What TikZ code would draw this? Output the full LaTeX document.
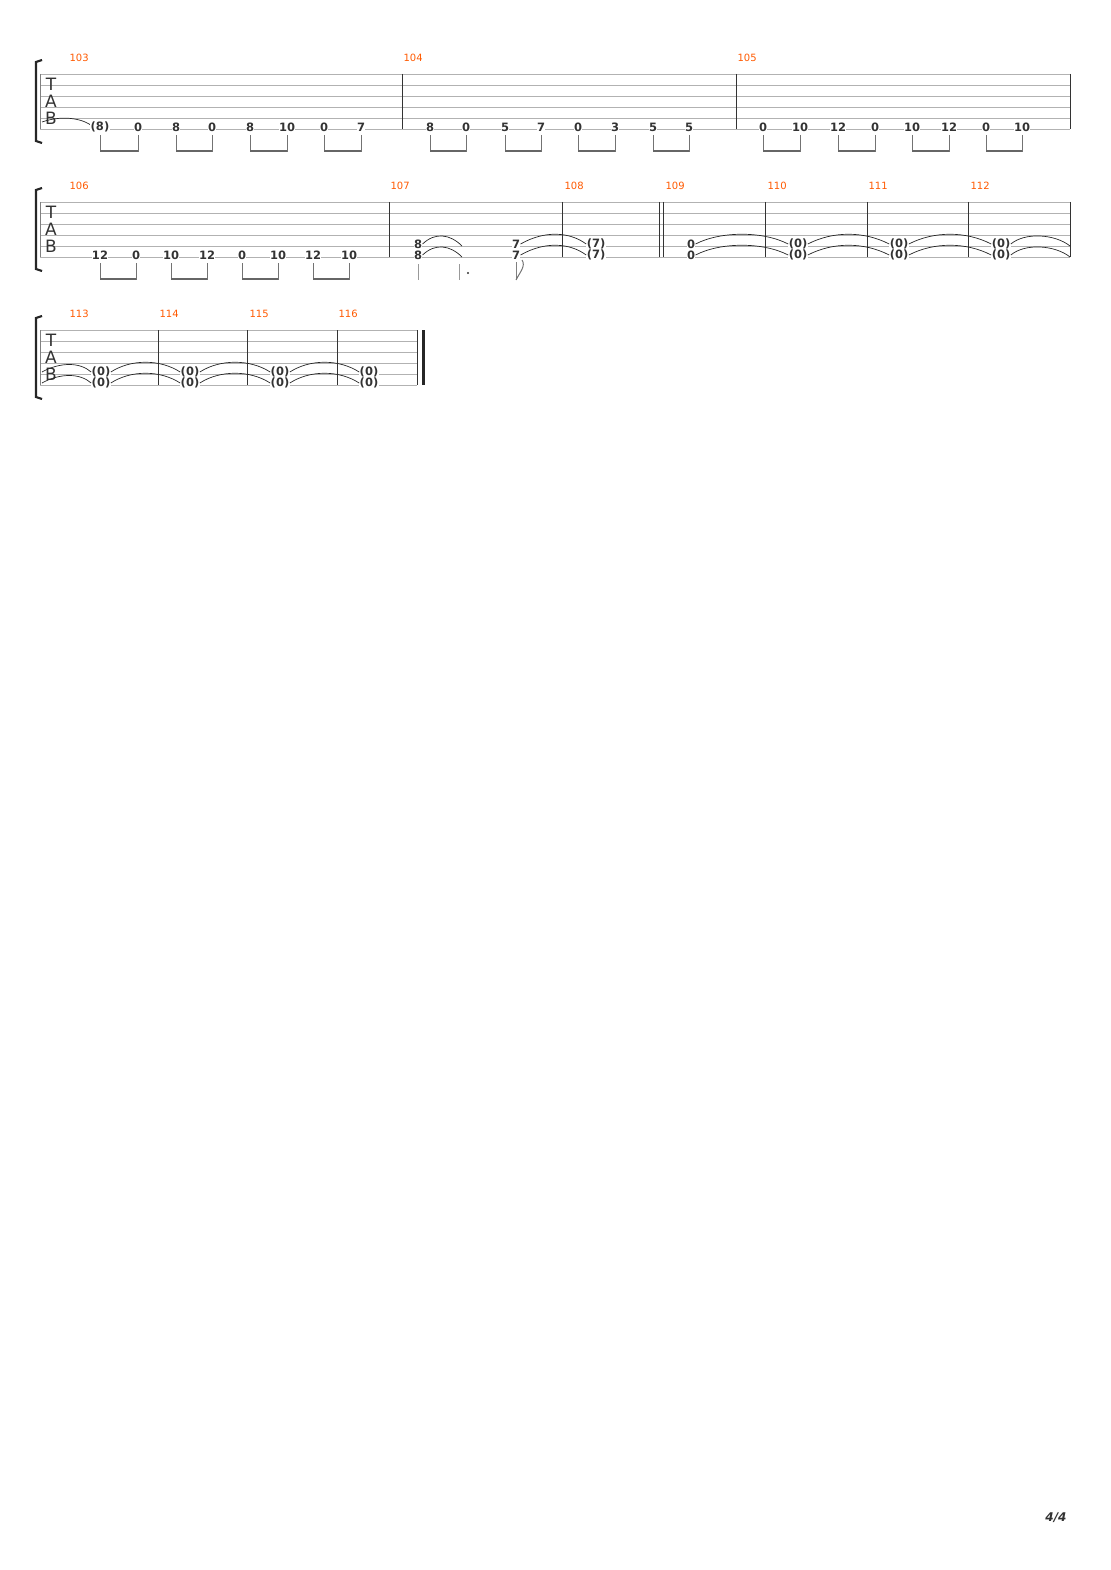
\documentclass[tikz,border=0pt]{standalone}
\usepackage{fontspec}
\setmainfont{DejaVu Sans}
\begin{document}
\begin{tikzpicture}[x=1pt,y=-1pt,
 nt/.style={fill=white,inner sep=0.4pt,font=\fontsize{11.5}{11.5}\selectfont\bfseries,text=black!80},
 mn/.style={font=\fontsize{10}{10}\selectfont,text=orange!70!red,anchor=west},
 sl/.style={draw=black!30,line width=0.6pt},
 bar/.style={draw=black!80,line width=0.8pt},
 stm/.style={draw=black!55,line width=0.9pt},
 bm/.style={draw=black!60,line width=2pt},
 tie/.style={draw=black!85,line width=0.7pt},
 brk/.style={draw=black!85,line width=2.2pt}]
\path[use as bounding box] (0,0) rectangle (1110,1570);
% staves
\foreach \y/\xe in {74/1070,202/1070,330/417}{
 \foreach \i in {0,...,5}{\draw[sl] (40,\y+11*\i) -- (\xe,\y+11*\i);}
 \draw[brk] (42,\y-14) -- (36,\y-12) -- (36,\y+67) -- (42,\y+69);
 \draw[draw=black!50] (40,\y) -- (40,\y+55);
 \node[font=\fontsize{17}{17}\selectfont,text=black!80] at (51,\y+10) {T};
 \node[font=\fontsize{17}{17}\selectfont,text=black!80] at (51,\y+27) {A};
 \node[font=\fontsize{17}{17}\selectfont,text=black!80] at (51,\y+44) {B};
}
% barlines
\foreach \x in {402,736,1070}{\draw[bar] (\x,74)--(\x,129);}
\foreach \x in {389,562,659,663,765,867,968,1070}{\draw[bar] (\x,202)--(\x,257);}
\foreach \x in {158,247,337,417}{\draw[bar] (\x,330)--(\x,385);}
\draw[draw=black!85,line width=3pt] (423,330)--(423,385);
% measure numbers
\foreach \x/\y/\t in {66/58/103,400/58/104,734/58/105,66/186/106,387/186/107,561/186/108,662/186/109,764/186/110,865/186/111,967/186/112,66/314/113,156/314/114,246/314/115,335/314/116}
 \node[mn] at (\x,\y) {\t};
% system 1 notes
\draw[tie] (42,122) .. controls (65,114) and (85,120) .. (92,126);
\foreach \x/\t [count=\i] in {100/(8),138/0,176/8,212/0,250/8,287/10,324/0,361/7,430/8,466/0,505/5,541/7,578/0,615/3,653/5,689/5,763/0,800/10,838/12,875/0,912/10,949/12,986/0,1022/10}
 \node[nt] (a\i) at (\x,127) {\t};
\foreach \a/\b in {1/2,3/4,5/6,7/8,9/10,11/12,13/14,15/16,17/18,19/20,21/22,23/24}{
 \draw[stm] (a\a |- 0,135) -- (a\a |- 0,152);
 \draw[stm] (a\b |- 0,135) -- (a\b |- 0,152);
 \draw[bm] (a\a |- 0,151) -- (a\b |- 0,151);
}
% system 2 m106
\foreach \x/\t [count=\i] in {100/12,136/0,171/10,207/12,242/0,278/10,313/12,349/10}
 \node[nt] (b\i) at (\x,255) {\t};
\foreach \a/\b in {1/2,3/4,5/6,7/8}{
 \draw[stm] (b\a |- 0,263) -- (b\a |- 0,280);
 \draw[stm] (b\b |- 0,263) -- (b\b |- 0,280);
 \draw[bm] (b\a |- 0,279) -- (b\b |- 0,279);
}
% m107
\node[nt] (c1) at (418,244) {8};
\node[nt] (c2) at (418,255) {8};
\coordinate (c1e) at (462,246); \coordinate (c2e) at (462,257);
\draw[tie] (c1.east) .. controls (435,232) and (450,234) .. (c1e);
\draw[tie] (c2.east) .. controls (435,243) and (450,245) .. (c2e);
\draw[draw=black!40,line width=0.8pt] (418,264)--(418,280);
\draw[draw=black!40,line width=0.8pt] (459,264)--(459,280);
\fill[black!80] (468,273) circle (1.2);
\node[nt] (d1) at (516,244) {7};
\node[nt] (d2) at (516,255) {7};
\node[nt] (e1) at (596,244) {(7)};
\node[nt] (e2) at (596,255) {(7)};
\draw[tie] (d1.east) .. controls (545,230) and (570,232) .. (e1.west);
\draw[tie] (d2.east) .. controls (545,241) and (570,243) .. (e2.west);
\draw[draw=black!50,line width=0.8pt] (516,262)--(516,280);
\draw[draw=black!55,line width=1pt] (516,280) .. controls (520,272) and (526,266) .. (522,260);
% m109-112
\foreach \x [count=\i] in {691,798,899,1001}{
 \node[nt] (f\i) at (\x,244) {\ifnum\i=1 0\else(0)\fi};
 \node[nt] (g\i) at (\x,255) {\ifnum\i=1 0\else(0)\fi};
}
\foreach \a/\b in {1/2,2/3,3/4}{
 \draw[tie] (f\a.east) .. controls ([xshift=25pt,yshift=13pt]f\a.east) and ([xshift=-25pt,yshift=13pt]f\b.west) .. (f\b.west);
 \draw[tie] (g\a.east) .. controls ([xshift=25pt,yshift=13pt]g\a.east) and ([xshift=-25pt,yshift=13pt]g\b.west) .. (g\b.west);
}
\coordinate (fe) at (1070,246); \coordinate (ge) at (1070,257);
\draw[tie] (f4.east) .. controls (1025,232) and (1055,234) .. (fe);
\draw[tie] (g4.east) .. controls (1025,243) and (1055,245) .. (ge);
% system 3
\foreach \x [count=\i] in {101,190,280,369}{
 \node[nt] (h\i) at (\x,372) {(0)};
 \node[nt] (k\i) at (\x,383) {(0)};
}
\coordinate (hs) at (42,372); \coordinate (ks) at (42,383);
\draw[tie] (hs) .. controls (60,362) and (80,362) .. (h1.west);
\draw[tie] (ks) .. controls (60,373) and (80,373) .. (k1.west);
\foreach \a/\b in {1/2,2/3,3/4}{
 \draw[tie] (h\a.east) .. controls ([xshift=20pt,yshift=13pt]h\a.east) and ([xshift=-20pt,yshift=13pt]h\b.west) .. (h\b.west);
 \draw[tie] (k\a.east) .. controls ([xshift=20pt,yshift=13pt]k\a.east) and ([xshift=-20pt,yshift=13pt]k\b.west) .. (k\b.west);
}
\node[font=\fontsize{12}{12}\selectfont\bfseries\itshape,text=black!80] at (1056,1518) {4/4};
\end{tikzpicture}
\end{document}
